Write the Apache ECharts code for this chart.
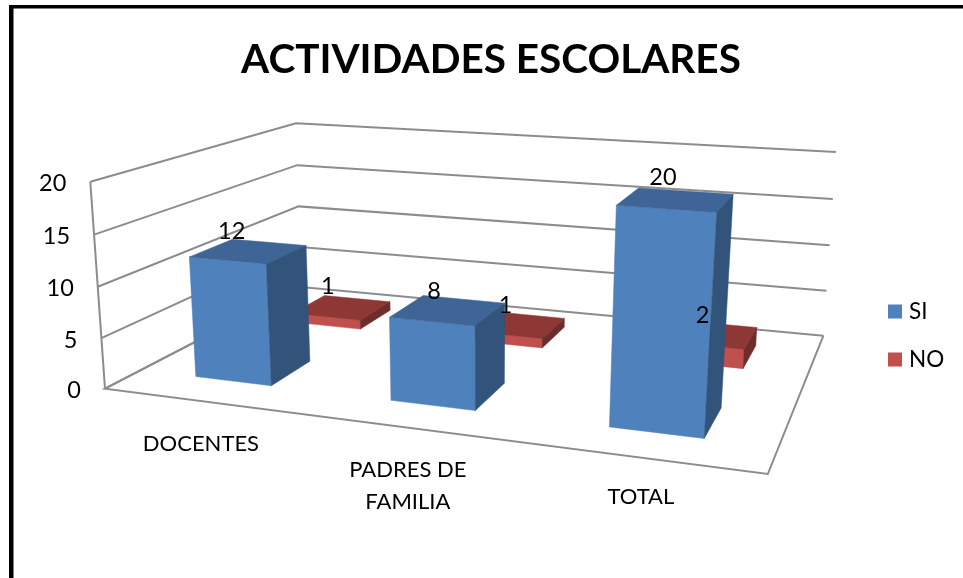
<!DOCTYPE html>
<html>
<head>
<meta charset="utf-8">
<title>ACTIVIDADES ESCOLARES</title>
<script src="https://cdn.jsdelivr.net/npm/echarts@6/dist/echarts.min.js"></script>
<style>
  html, body { margin: 0; padding: 0; background: #fff; }
  #chart { width: 963px; height: 578px; }
</style>
</head>
<body>
<div id="chart"></div>
<script>
const categories = ['DOCENTES', 'PADRES DE\nFAMILIA', 'TOTAL']
const siValues = [12, 8, 20]
const noValues = [1, 1, 2]
const tickValues = [0, 5, 10, 15, 20]

const fontName = 'Lato'
const gridColor = '#8c8c8c'
const siColors = { front: '#4f81bd', top: '#3e6595', side: '#32537a' }
const noColors = { front: '#c0504d', top: '#8e3836', side: '#6e2c2a' }

// corners of the 3D box on screen: [front left, front right, back right, back left]
const floorQuad = [[105, 388.7], [767.8, 474], [823.4, 335.7], [301, 287]]
const ceilQuad = [[90.3, 181.7], [786, 234], [836, 152], [296, 123.3]]

// label nudges from the projected top of each bar, [series][category]
const siNudge = [[-17, -20], [-14, -19], [-13, -22]]
const noNudge = [[-14, -21], [-11, -19], [-7, -19]]
const categoryNudge = [0, -1, -4]

// unit square -> quad
function quadMap (q) {
  const sx = q[0][0] - q[1][0] + q[2][0] - q[3][0]
  const sy = q[0][1] - q[1][1] + q[2][1] - q[3][1]
  const dx1 = q[1][0] - q[2][0]
  const dx2 = q[3][0] - q[2][0]
  const dy1 = q[1][1] - q[2][1]
  const dy2 = q[3][1] - q[2][1]
  const det = dx1 * dy2 - dx2 * dy1
  const g = (sx * dy2 - dx2 * sy) / det
  const h = (dx1 * sy - sx * dy1) / det
  const a = q[1][0] - q[0][0] + g * q[1][0]
  const b = q[3][0] - q[0][0] + h * q[3][0]
  const d = q[1][1] - q[0][1] + g * q[1][1]
  const e = q[3][1] - q[0][1] + h * q[3][1]
  return (u, v) => {
    const w = g * u + h * v + 1
    return [(a * u + b * v + q[0][0]) / w, (d * u + e * v + q[0][1]) / w]
  }
}
const floorAt = quadMap(floorQuad)
const ceilAt = quadMap(ceilQuad)

// u along categories, v is depth, h is the height, all 0..1
function project (u, v, h) {
  const f = floorAt(u, v)
  const c = ceilAt(u, v)
  // heights get slightly bigger towards the top of the picture
  const t = h - 0.03 * h * (1 - h)
  return [f[0] + (c[0] - f[0]) * t, f[1] + (c[1] - f[1]) * t]
}

// reads the axis scales, so everything drawn goes through them
function scaled (params, api, cat, value) {
  const sys = params.coordSys
  const p = api.coord([cat, value])
  return {
    u: (p[0] - sys.x) / sys.width,
    h: (sys.y + sys.height - p[1]) / sys.height,
    halfBand: api.size([1, 0])[0] / sys.width * 0.2
  }
}

function barRender (row, colors) {
  return function (params, api) {
    const s = scaled(params, api, api.value(0), api.value(1))
    const u0 = s.u - s.halfBand
    const u1 = s.u + s.halfBand
    const v0 = (row + 0.5) / 2 - 0.1
    const v1 = (row + 0.5) / 2 + 0.1
    const face = (points, color) => ({
      type: 'polygon',
      shape: { points: points },
      style: { fill: color, stroke: color, lineWidth: 0.5 }
    })
    return {
      type: 'group',
      children: [
        face([project(u0, v0, 0), project(u1, v0, 0), project(u1, v0, s.h), project(u0, v0, s.h)], colors.front),
        face([project(u0, v0, s.h), project(u1, v0, s.h), project(u1, v1, s.h), project(u0, v1, s.h)], colors.top),
        face([project(u1, v0, 0), project(u1, v1, 0), project(u1, v1, s.h), project(u1, v0, s.h)], colors.side)
      ]
    }
  }
}

function wallRender (params, api) {
  const s = scaled(params, api, 0, api.value(0))
  const line = (points) => ({
    type: 'polyline',
    shape: { points: points },
    style: { fill: null, stroke: gridColor, lineWidth: 2 }
  })
  const corner = project(0, 0, s.h)
  const children = [
    line([corner, project(0, 1, s.h), project(1, 1, s.h)]),
    {
      type: 'text',
      style: {
        text: String(api.value(0)),
        x: corner[0] - 24,
        y: corner[1] + 2,
        align: 'right',
        verticalAlign: 'middle',
        font: '23.5px ' + fontName,
        fill: '#000'
      }
    }
  ]
  if (s.h === 0) {
    // floor outline and the left upright only once
    children.push(line([project(0, 1, 0), corner, project(1, 0, 0), project(1, 1, 0)]))
    children.push(line([corner, project(0, 0, 1)]))
  }
  return { type: 'group', children: children }
}

function categoryRender (params, api) {
  const cat = api.value(0)
  const s = scaled(params, api, cat, 0)
  const p = project(s.u, 0, 0)
  return {
    type: 'text',
    style: {
      text: categories[cat],
      x: p[0] + 1,
      y: p[1] + 27 + categoryNudge[cat],
      align: 'center',
      verticalAlign: 'top',
      lineHeight: 32,
      font: '22px ' + fontName,
      fill: '#000'
    }
  }
}

function labelRender (params, api) {
  const cat = api.value(0)
  const row = api.value(2)
  const s = scaled(params, api, cat, api.value(1))
  const p = project(s.u, (row + 0.5) / 2, s.h)
  const nudge = row === 0 ? siNudge[cat] : noNudge[cat]
  return {
    type: 'text',
    style: {
      text: String(api.value(1)),
      x: p[0] + nudge[0],
      y: p[1] + nudge[1],
      align: 'center',
      verticalAlign: 'middle',
      font: '23.5px ' + fontName,
      fill: '#000'
    }
  }
}

const labelRows = []
siValues.forEach((v, i) => labelRows.push([i, v, 0]))
noValues.forEach((v, i) => labelRows.push([i, v, 1]))

const chart = echarts.init(document.getElementById('chart'))
chart.setOption({
  animation: false,
  backgroundColor: '#fff',
  textStyle: { fontFamily: fontName },
  title: {
    text: 'ACTIVIDADES ESCOLARES',
    left: 486,
    top: 34,
    textAlign: 'center',
    textStyle: { fontFamily: fontName, fontSize: 40.5, fontWeight: 'bold', color: '#000' }
  },
  legend: {
    data: ['SI', 'NO'],
    orient: 'vertical',
    left: 888,
    top: 300,
    itemWidth: 14,
    itemHeight: 14,
    itemGap: 25,
    icon: 'rect',
    selectedMode: false,
    textStyle: { fontFamily: fontName, fontSize: 22.5, color: '#000', padding: [0, 0, 0, 2] },
    padding: 0
  },
  // the axes only provide the scales, the perspective is drawn in the render items
  grid: { left: 100, right: 100, top: 100, bottom: 100 },
  xAxis: { type: 'category', data: categories, show: false },
  yAxis: { type: 'value', min: 0, max: 20, interval: 5, show: false },
  graphic: [
    { type: 'rect', shape: { x: 9, y: 5, width: 954, height: 3.5 }, style: { fill: '#000' } },
    { type: 'rect', shape: { x: 9, y: 5, width: 4.5, height: 573 }, style: { fill: '#000' } }
  ],
  series: [
    {
      name: 'paredes',
      type: 'custom',
      z: 1,
      silent: true,
      data: tickValues.map(v => [v]),
      encode: { y: 0 },
      renderItem: wallRender
    },
    {
      name: 'NO',
      type: 'custom',
      z: 2,
      silent: true,
      itemStyle: { color: noColors.front },
      data: noValues.map((v, i) => [i, v]),
      encode: { x: 0, y: 1 },
      renderItem: barRender(1, noColors)
    },
    {
      name: 'SI',
      type: 'custom',
      z: 3,
      silent: true,
      itemStyle: { color: siColors.front },
      data: siValues.map((v, i) => [i, v]),
      encode: { x: 0, y: 1 },
      renderItem: barRender(0, siColors)
    },
    {
      name: 'categorias',
      type: 'custom',
      z: 4,
      silent: true,
      data: categories.map((c, i) => [i]),
      encode: { x: 0 },
      renderItem: categoryRender
    },
    {
      name: 'etiquetas',
      type: 'custom',
      z: 5,
      silent: true,
      data: labelRows,
      encode: { x: 0, y: 1 },
      renderItem: labelRender
    }
  ]
})
</script>
</body>
</html>
